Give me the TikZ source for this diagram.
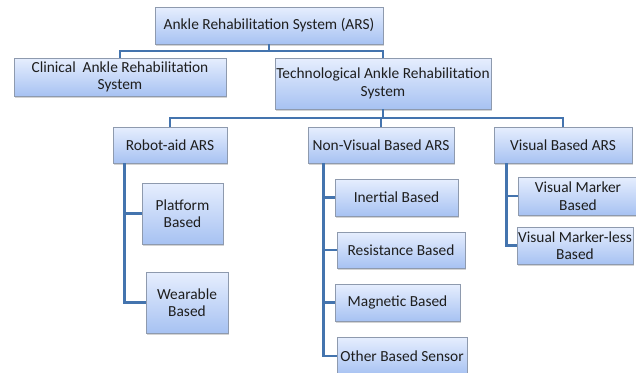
\documentclass[tikz,border=0pt]{standalone}
\usepackage{fontspec}
\setmainfont{Carlito}
\usetikzlibrary{shadows}

\definecolor{boxtop}{HTML}{E6EEFE}
\definecolor{boxbot}{HTML}{A7C2F2}
\definecolor{boxline}{HTML}{8E9AAE}
\definecolor{linkblue}{HTML}{4474AE}
\definecolor{textgray}{HTML}{1E1E1E}

\begin{document}
\begin{tikzpicture}[x=1pt, y=-1pt,
        box/.style={
            rectangle,
            draw=boxline, thin,
            top color=boxtop, bottom color=boxbot,
            drop shadow={shadow xshift=1.2pt, shadow yshift=-1.5pt, opacity=0.35},
            text=textgray,
            font=\fontsize{15.4}{17.5}\selectfont,
            align=center,
            inner sep=1pt},
        link/.style={
            draw=linkblue,
            line width=2.8pt}
        ]

        \useasboundingbox (0,0) rectangle (636,372);

        % top two levels
        \node (ars) [box, minimum width=228, minimum height=37] at (269,25.5) {Ankle Rehabilitation System (ARS)};
        \node (clinical) [box, minimum width=212, minimum height=38] at (120,77) {Clinical\ \ Ankle Rehabilitation\\System};
        \node (techno) [box, minimum width=210, minimum height=51] at (383,83.5) {Technological Ankle Rehabilitation\\System};

        % second level
        \node (robot) [box, minimum width=114, minimum height=36] at (170,145) {Robot-aid ARS};
        \node (nonvisual) [box, minimum width=146, minimum height=36] at (381,145) {Non-Visual Based ARS};
        \node (visual) [box, minimum width=138, minimum height=36] at (563,145) {Visual Based ARS};

        % robot-aid leaves
        \node (platform) [box, minimum width=81, minimum height=61] at (182.5,213.5) {Platform\\Based};
        \node (wearable) [box, minimum width=82, minimum height=61] at (187,302.5) {Wearable\\Based};

        % non-visual leaves
        \node (inertial) [box, minimum width=123, minimum height=37] at (396.5,197.5) {Inertial Based};
        \node (resistance) [box, minimum width=128, minimum height=36] at (401,250) {Resistance Based};
        \node (magnetic) [box, minimum width=125, minimum height=37] at (397.5,302.5) {Magnetic Based};
        \node (other) [box, minimum width=130, minimum height=38] at (402,356) {Other Based Sensor};

        % visual leaves
        \node (marker) [box, minimum width=120, minimum height=38] at (578,196) {Visual Marker\\Based};
        \node (markerless) [box, minimum width=114, minimum height=37] at (575,245.5) {Visual Marker-less\\Based};

        % junctions of the tree
        \coordinate (split1) at (269,51);
        \coordinate (split2) at (383,118);

        \draw [link] (ars.south) -- (split1);
        \draw [link] (split1) -| (clinical.north);
        \draw [link] (split1) -| (techno.north);

        \draw [link] (techno.south) -- (split2);
        \draw [link] (split2) -| (robot.north);
        \draw [link] (split2) -| (nonvisual.north);
        \draw [link] (split2) -| (visual.north);

        \draw [link] (robot.south west) ++(12,0) |- (platform.west);
        \draw [link] (robot.south west) ++(12,0) |- (wearable.west);

        \draw [link] (nonvisual.south west) ++(16,0) |- (inertial.west);
        \draw [link] (nonvisual.south west) ++(16,0) |- (resistance.west);
        \draw [link] (nonvisual.south west) ++(16,0) |- (magnetic.west);
        \draw [link] (nonvisual.south west) ++(16,0) |- (other.west);

        \draw [link] (visual.south west) ++(13,0) |- (marker.west);
        \draw [link] (visual.south west) ++(13,0) |- (markerless.west);

        \end{tikzpicture}
\end{document}
